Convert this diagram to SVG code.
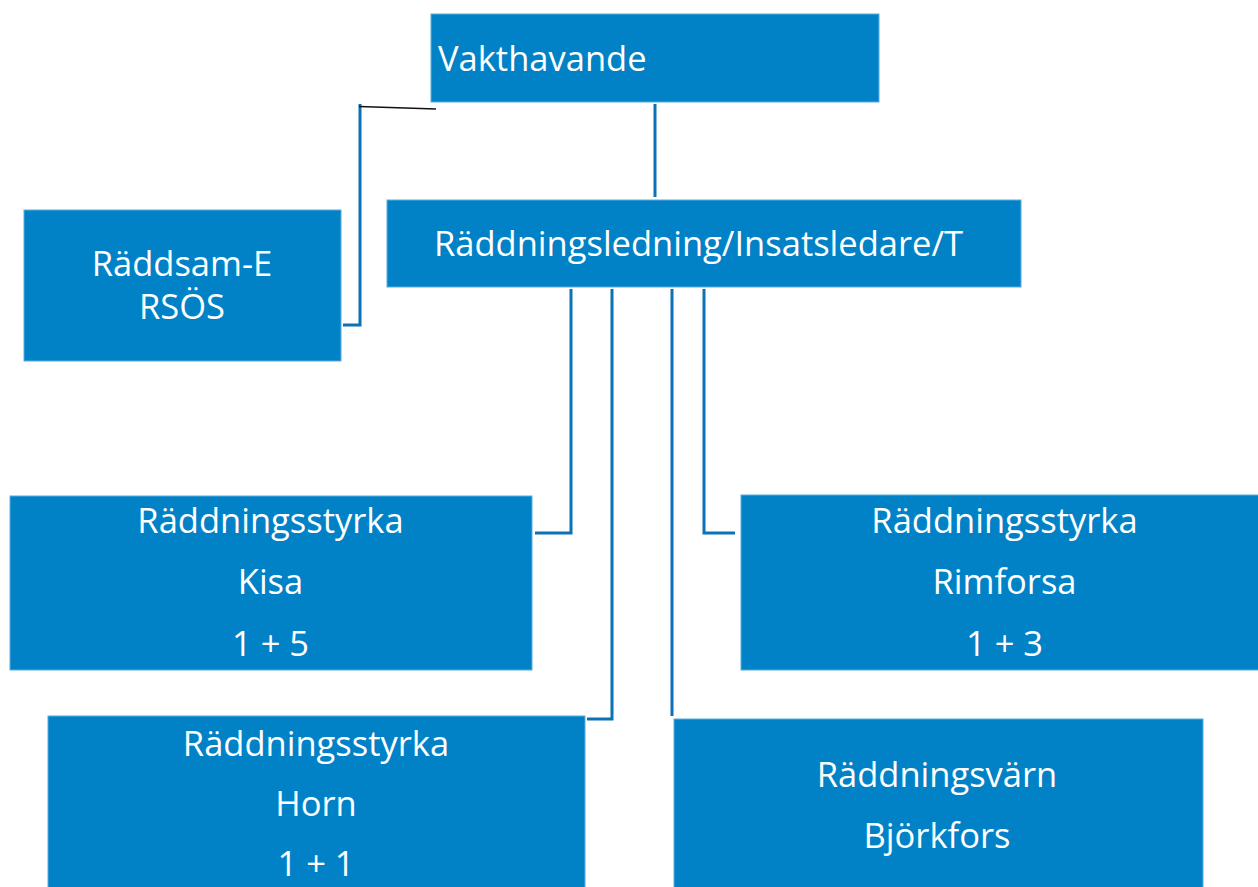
<svg xmlns="http://www.w3.org/2000/svg" width="1258" height="887" viewBox="0 0 1258 887">
<style>
.box{fill:#0182C7;stroke:#5AAEE0;stroke-width:1}
.t{font-family:"Open Sans","Noto Sans",sans-serif;font-size:34.5px;fill:#ffffff}
.c{text-anchor:middle}
.ln{fill:none;stroke:#0B72B5;stroke-width:3}
</style>
<rect width="1258" height="887" fill="#ffffff"/>
<g id="connectors">
<polyline class="ln" points="655,104 655,197"/>
<polyline class="ln" points="343,325 360,325 360,104"/>
<line x1="359" y1="106.5" x2="436" y2="109" stroke="#111111" stroke-width="1.5"/>
<polyline class="ln" points="571,289 571,533 535,533"/>
<polyline class="ln" points="612,289 612,719 587,719"/>
<polyline class="ln" points="672,289 672,716"/>
<polyline class="ln" points="704,289 704,533 735,533"/>
</g>
<g id="vakthavande">
<rect class="box" x="431" y="14" width="448" height="88"/>
<text class="t" x="438" y="71">Vakthavande</text>
</g>
<g id="raddningsledning">
<rect class="box" x="387" y="200" width="634" height="87"/>
<text class="t" x="434" y="256">Räddningsledning/Insatsledare/T</text>
</g>
<g id="raddsam">
<rect class="box" x="24" y="210" width="317" height="151"/>
<text class="t c" x="182" y="276">Räddsam-E</text>
<text class="t c" x="182" y="319">RSÖS</text>
</g>
<g id="kisa">
<rect class="box" x="10" y="496" width="522" height="174"/>
<text class="t c" x="270.5" y="533">Räddningsstyrka</text>
<text class="t c" x="270.5" y="594">Kisa</text>
<text class="t c" x="270.5" y="656">1 + 5</text>
</g>
<g id="rimforsa">
<rect class="box" x="741" y="495" width="530" height="175"/>
<text class="t c" x="1004.5" y="533">Räddningsstyrka</text>
<text class="t c" x="1004.5" y="594">Rimforsa</text>
<text class="t c" x="1004.5" y="656">1 + 3</text>
</g>
<g id="horn">
<rect class="box" x="48" y="716" width="537" height="185"/>
<text class="t c" x="316" y="756">Räddningsstyrka</text>
<text class="t c" x="316" y="816">Horn</text>
<text class="t c" x="316" y="876">1 + 1</text>
</g>
<g id="bjorkfors">
<rect class="box" x="674" y="719" width="529" height="182"/>
<text class="t c" x="937" y="787">Räddningsvärn</text>
<text class="t c" x="937" y="848">Björkfors</text>
</g>
</svg>
